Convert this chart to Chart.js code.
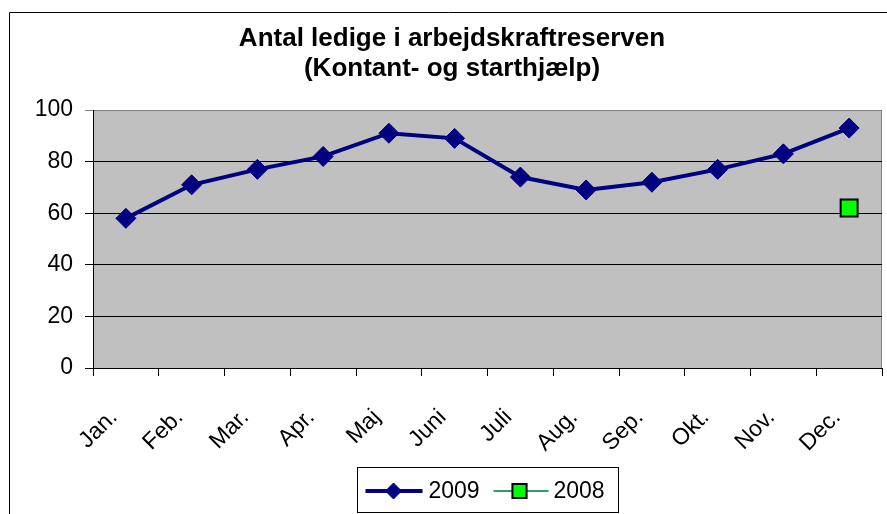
<!DOCTYPE html>
<html>
<head>
<meta charset="utf-8">
<script src="https://cdn.jsdelivr.net/npm/chart.js@4"></script>
<style>
  html, body { margin: 0; padding: 0; background: #fff; }
</style>
</head>
<body>
<canvas id="chart" width="887" height="514"></canvas>
<script>
// data
var months = ['Jan.', 'Feb.', 'Mar.', 'Apr.', 'Maj', 'Juni', 'Juli', 'Aug.', 'Sep.', 'Okt.', 'Nov.', 'Dec.'];
var ledige2009 = [58, 71, 77, 82, 91, 89, 74, 69, 72, 77, 83, 93];
var ledige2008 = [null, null, null, null, null, null, null, null, null, null, null, 62];
var titleLines = ['Antal ledige i arbejdskraftreserven', '(Kontant- og starthjælp)'];
var yMin = 0, yMax = 100, yStep = 20;

var fontFamily = '"Liberation Sans", Arial, sans-serif';

// legend like the excel one: line + marker + label
function drawLegend(chart) {
  var ctx = chart.ctx;
  var a = chart.chartArea;
  var cx = (a.left + a.right) / 2;
  var left = Math.round(cx - 130.5) + 0.5, top = 467.5;
  var w = 261, h = 45;
  var midY = 491;
  ctx.save();
  ctx.strokeStyle = '#000';
  ctx.lineWidth = 1;
  ctx.strokeRect(left, top, w, h);

  var slots = [{x: 8, len: 57, mark: 28, text: 63, r: 8}, {x: 136, len: 55, mark: 26, text: 60, r: 10}];
  chart.data.datasets.forEach(function(ds, i) {
    var s = slots[i];
    var x0 = left + s.x;
    ctx.strokeStyle = ds.borderColor;
    ctx.lineWidth = ds.borderWidth;
    ctx.beginPath();
    ctx.moveTo(x0, midY);
    ctx.lineTo(x0 + s.len, midY);
    ctx.stroke();

    ctx.fillStyle = ds.pointBackgroundColor;
    ctx.strokeStyle = ds.pointBorderColor;
    ctx.lineWidth = ds.pointBorderWidth;
    Chart.helpers.drawPoint(ctx, {pointStyle: ds.pointStyle, radius: s.r, rotation: 0, borderWidth: ds.pointBorderWidth}, x0 + s.mark, midY);

    ctx.fillStyle = '#000';
    ctx.font = '23px ' + fontFamily;
    ctx.textAlign = 'left';
    ctx.textBaseline = 'middle';
    ctx.fillText(ds.label, x0 + s.text, midY + 1);
  });
  ctx.restore();
}

var excelLook = {
  id: 'excelLook',
  beforeDraw: function(chart) {
    var ctx = chart.ctx, a = chart.chartArea;
    ctx.save();
    ctx.fillStyle = '#fff';
    ctx.fillRect(0, 0, chart.width, chart.height);
    // outer chart frame, runs off to the right and bottom
    ctx.strokeStyle = '#000';
    ctx.lineWidth = 1;
    ctx.beginPath();
    ctx.moveTo(9.5, chart.height);
    ctx.lineTo(9.5, 12.5);
    ctx.lineTo(chart.width, 12.5);
    ctx.stroke();
    // grey plot area
    ctx.fillStyle = '#c0c0c0';
    ctx.fillRect(a.left, a.top, a.right - a.left, a.bottom - a.top);
    ctx.strokeStyle = '#808080';
    ctx.beginPath();
    ctx.moveTo(a.left, a.top + 0.5);
    ctx.lineTo(a.right - 0.5, a.top + 0.5);
    ctx.lineTo(a.right - 0.5, a.bottom);
    ctx.stroke();
    ctx.restore();
  },
  afterDraw: drawLegend
};

var ctx = document.getElementById('chart').getContext('2d');
var myChart = new Chart(ctx, {
  type: 'line',
  data: {
    labels: months,
    datasets: [{
      label: '2009',
      data: ledige2009,
      borderColor: '#000080',
      borderWidth: 4,
      pointStyle: 'rectRot',
      pointRadius: 10,
      pointBackgroundColor: '#000080',
      pointBorderColor: '#000080',
      pointBorderWidth: 1,
      tension: 0
    }, {
      label: '2008',
      data: ledige2008,
      borderColor: '#339966',
      borderWidth: 2,
      pointStyle: 'rect',
      pointRadius: 12,
      pointBackgroundColor: '#00ff00',
      pointBorderColor: '#000000',
      pointBorderWidth: 2
    }]
  },
  options: {
    responsive: false,
    animation: false,
    layout: { autoPadding: false, padding: { left: 22, right: 5, top: 0, bottom: 0 } },
    plugins: {
      legend: { display: false },
      tooltip: { enabled: false },
      title: {
        display: true,
        text: titleLines,
        color: '#000',
        font: { family: fontFamily, size: 26, weight: 'bold', lineHeight: 30 / 26 },
        padding: { top: 24, bottom: 26 }
      }
    },
    scales: {
      x: {
        offset: true,
        grid: { offset: true, drawOnChartArea: false, drawTicks: true, tickLength: 8, color: '#000' },
        border: { color: '#000', width: 1 },
        ticks: { autoSkip: false, maxRotation: 45, minRotation: 45, color: '#000', padding: 28, labelOffset: -12, font: { family: fontFamily, size: 23 } },
        afterFit: function(s) {
          s.height = 146;
          // rotated labels would otherwise eat into the right side
          s.paddingLeft = 0;
          s.paddingRight = 0;
        }
      },
      y: {
        min: yMin,
        max: yMax,
        ticks: { stepSize: yStep, color: '#000', padding: 12, font: { family: fontFamily, size: 23 } },
        grid: {
          color: function(c) { return c.tick && c.tick.value === yMax ? '#808080' : '#000'; },
          tickLength: 8
        },
        border: { color: '#000' },
        afterFit: function(s) { s.width = 71; }
      }
    }
  },
  plugins: [excelLook]
});
</script>
</body>
</html>
